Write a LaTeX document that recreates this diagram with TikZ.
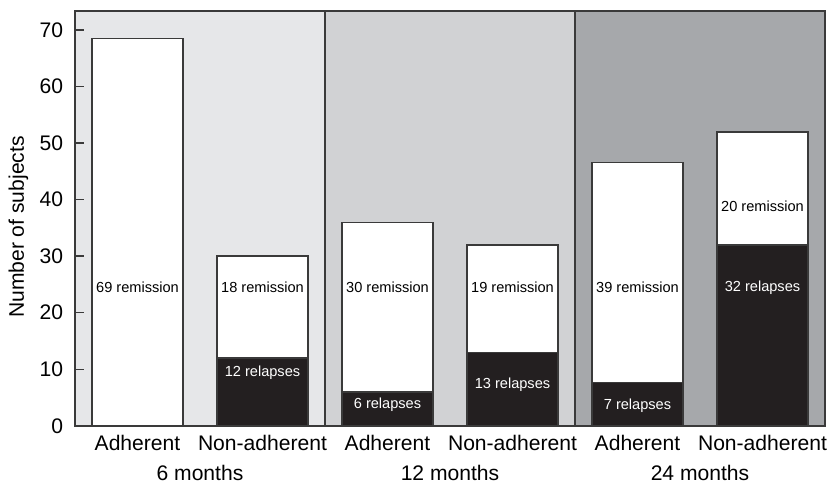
\documentclass[tikz,border=0pt]{standalone}
\usepackage{fontspec}
\setmainfont{Liberation Sans}
\usepackage{tikz}
\usetikzlibrary{positioning}
\definecolor{panelA}{HTML}{E6E7E9}
\definecolor{panelB}{HTML}{D1D2D4}
\definecolor{panelC}{HTML}{A6A8AB}
\definecolor{relapsefill}{HTML}{231F20}
\definecolor{framegray}{HTML}{3A3A3A}
\tikzset{
  framed/.style={draw=framegray, line width=0.8pt},
  remissionbar/.style={fill=white, draw=framegray, line width=0.8pt},
  relapsebar/.style={fill=relapsefill, draw=framegray, line width=0.8pt},
  barlabel/.style={font=\fontsize{8.3}{10}\selectfont, inner sep=0pt},
  axislabel/.style={font=\fontsize{12}{14}\selectfont, inner sep=0pt},
}

\begin{document}
\begin{tikzpicture}
    \useasboundingbox (0,0) rectangle (16.56,9.66);
    \node[axislabel, rotate=90] (ylabel) at (0.37,5.12) {Number of subjects};

    \begin{scope}[shift={(1.5,1.144)}, x=2.5cm, y=0.11306cm]
    % Panel backgrounds
    \fill[panelA] (0,0) rectangle (2,73.4);
    \fill[panelB] (2,0) rectangle (4,73.4);
    \fill[panelC] (4,0) rectangle (6,73.4);
    \draw[framed] (0,0) rectangle (6,73.4);
    \draw[framed] (2,0) -- (2,73.4);
    \draw[framed] (4,0) -- (4,73.4);

    % Y axis ticks
    \foreach \v in {0,10,...,70} {
        \draw[framed] (0,\v) -- ++(0.075,0);
        \node[axislabel, left=0.23cm] (tick\v) at (0,\v) {\v};
    }

    % 6 months
    \draw[remissionbar] (0.136,0) rectangle (0.864,68.5);
    \node[barlabel] (remA) at (0.5,24.5) {69 remission};
    \draw[remissionbar] (1.136,12) rectangle (1.864,30);
    \draw[relapsebar] (1.136,0) rectangle (1.864,12);
    \node[barlabel] (remB) at (1.5,24.5) {18 remission};
    \node[barlabel, white] (relB) at (1.5,9.3) {12 relapses};

    % 12 months
    \draw[remissionbar] (2.136,6) rectangle (2.864,36);
    \draw[relapsebar] (2.136,0) rectangle (2.864,6);
    \node[barlabel] (remC) at (2.5,24.5) {30 remission};
    \node[barlabel, white] (relC) at (2.5,3.66) {6 relapses};
    \draw[remissionbar] (3.136,13) rectangle (3.864,32);
    \draw[relapsebar] (3.136,0) rectangle (3.864,13);
    \node[barlabel] (remD) at (3.5,24.5) {19 remission};
    \node[barlabel, white] (relD) at (3.5,7.2) {13 relapses};

    % 24 months
    \draw[remissionbar] (4.136,7.7) rectangle (4.864,46.6);
    \draw[relapsebar] (4.136,0) rectangle (4.864,7.7);
    \node[barlabel] (remE) at (4.5,24.5) {39 remission};
    \node[barlabel, white] (relE) at (4.5,3.5) {7 relapses};
    \draw[remissionbar] (5.136,32) rectangle (5.864,52);
    \draw[relapsebar] (5.136,0) rectangle (5.864,32);
    \node[barlabel] (remF) at (5.5,38.9) {20 remission};
    \node[barlabel, white] (relF) at (5.5,24.5) {32 relapses};

    % Category labels
    \node[axislabel] (catA) at (0.5,-3.04) {Adherent};
    \node[axislabel] (catB) at (1.5,-3.04) {Non-adherent};
    \node[axislabel] (catC) at (2.5,-3.04) {Adherent};
    \node[axislabel] (catD) at (3.5,-3.04) {Non-adherent};
    \node[axislabel] (catE) at (4.5,-3.04) {Adherent};
    \node[axislabel] (catF) at (5.5,-3.04) {Non-adherent};
    \node[axislabel] (monA) at (1,-8.35) {6 months};
    \node[axislabel] (monB) at (3,-8.35) {12 months};
    \node[axislabel] (monC) at (5,-8.35) {24 months};
    \end{scope}
\end{tikzpicture}
\end{document}
